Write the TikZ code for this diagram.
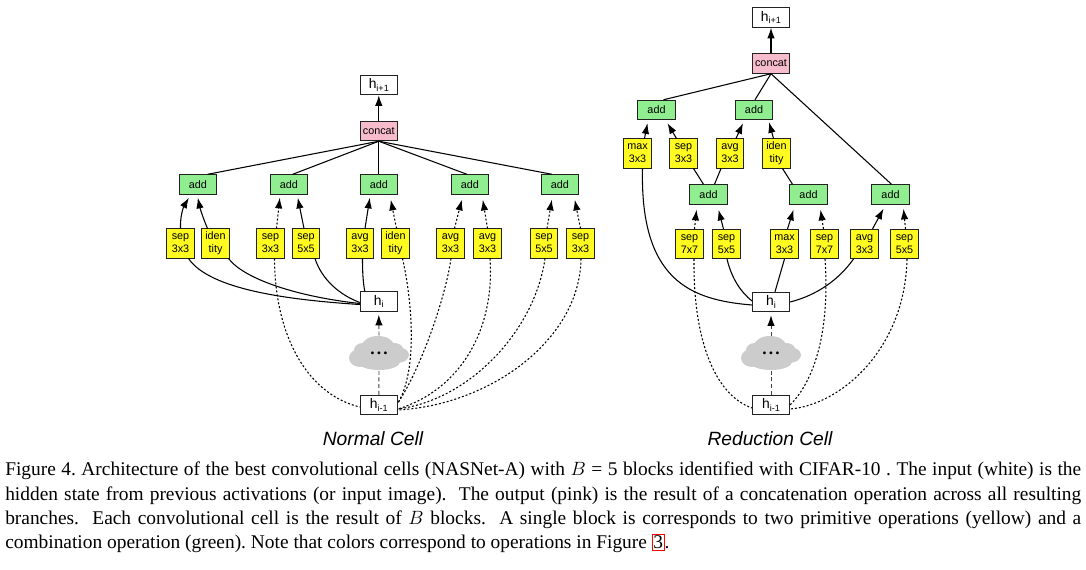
\documentclass[tikz,border=0pt]{standalone}
\usepackage{fontspec}
\setmainfont{Liberation Serif}
\setsansfont{Liberation Sans}
\usetikzlibrary{arrows.meta,calc}
\definecolor{addgreen}{HTML}{90EE90}
\definecolor{opyellow}{HTML}{FFFB20}
\definecolor{cloudgray}{HTML}{CCCCCC}
\definecolor{pinkfill}{HTML}{F7BCCB}
\definecolor{edgeblack}{HTML}{222222}
\tikzset{
  box/.style={draw=edgeblack,line width=0.75pt,font=\sffamily\fontsize{8.1}{9.75}\selectfont,align=center,inner sep=0pt,minimum width=27.8pt,minimum height=14.6pt},
  ibox/.style={box,fill=white,font=\sffamily\fontsize{10.4}{11}\selectfont},
  pinkbox/.style={box,fill=pinkfill},
  addbox/.style={box,fill=addgreen},
  opbox/.style={box,fill=opyellow,minimum width=20.4pt,minimum height=21.8pt},
  blob/.style={inner sep=0pt,minimum width=45pt,minimum height=25.5pt,font=\bfseries\fontsize{13}{13}\selectfont},
  tip/.style={-{Latex[length=8pt,width=5.6pt,black]}},
  solidedge/.style={line width=0.8pt,draw=black},
  arrowedge/.style={solidedge,tip},
  dotedge/.style={line width=0.8pt,draw=black,dash pattern=on 1.5pt off 1.5pt},
  dotarrow/.style={dotedge,tip},
  dashedge/.style={line width=0.7pt,draw=black!75,dash pattern=on 3pt off 2pt},
  title/.style={font=\sffamily\itshape\fontsize{14.4}{16}\selectfont},
}
\newcommand{\hsub}[1]{h\raisebox{-0.35ex}{\fontsize{6.8}{7}\selectfont #1}}
\newcommand{\puffs}[1]{%
  \foreach \dx/\dy/\rx/\ry in {-19/5/11/9, -1/-7/16/10, 18/2/12/8, 0/9/21/8, -16/-3/9/7, 15/-4/9/6}
    \fill[cloudgray] ($(#1)+(\dx,\dy)$) ellipse [x radius=\rx*0.75pt, y radius=\ry*0.75pt];}
\newcommand{\threedots}{.\kern1.6pt.\kern1.6pt.}
\begin{document}
\begin{tikzpicture}[x=0.75pt,y=-0.75pt]
\useasboundingbox (0,0) rectangle (1086,570);
% ---------- Normal cell ----------
\node[ibox] (hn) at (378.8,85) {\hsub{i+1}};
\node[pinkbox] (cn) at (378.8,131) {concat};
\foreach \n/\x in {a1/197.8,a2/288.8,a3/378.8,a4/469.8,a5/559.8}
  \node[addbox] (\n) at (\x,184.5) {add};
\node[opbox] (y1) at (180.5,243.5) {sep\\3x3};
\node[opbox] (y2) at (215.5,243.5) {iden\\tity};
\node[opbox] (y3) at (270.5,243.5) {sep\\3x3};
\node[opbox] (y4) at (306,243.5) {sep\\5x5};
\node[opbox] (y5) at (360,243.5) {avg\\3x3};
\node[opbox] (y6) at (395.5,243.5) {iden\\tity};
\node[opbox] (y7) at (450.5,243.5) {avg\\3x3};
\node[opbox] (y8) at (487.5,243.5) {avg\\3x3};
\node[opbox] (y9) at (544,243.5) {sep\\5x5};
\node[opbox] (y10) at (580.5,243.5) {sep\\3x3};
\node[ibox] (hi) at (378.8,301.5) {\hsub{i}};
\coordinate (clc) at (379,353);
\puffs{clc}
\node[blob] (cl) at (clc) {\threedots};
\node[ibox] (hm) at (378.8,405) {\hsub{i-1}};
\node[title] (t1) at (373,439) {Normal Cell};
\draw[arrowedge] (cn) -- (hn);
\draw[solidedge] (cn.south) -- ($(a1.north)+(10,0)$);
\draw[solidedge] (cn.south) -- ($(a2.north)+(4,0)$);
\draw[solidedge] (cn.south) -- (a3.north);
\draw[solidedge] (cn.south) -- ($(a4.north)+(-3,0)$);
\draw[solidedge] (cn.south) -- ($(a5.north)+(-8,0)$);
\draw[arrowedge] (y1.north) .. controls (180,215) and (184,206) .. ($(a1.south)+(-9,3)$);
\draw[arrowedge] ($(y2.north)+(-8,0)$) .. controls (203,218) and (200,208) .. ($(a1.south)+(0,3)$);
\draw[dotarrow] ($(y3.north)+(6,0)$) -- ($(a2.south)+(-9,3)$);
\draw[arrowedge] ($(y4.north)+(-2,0)$) -- ($(a2.south)+(9,3)$);
\draw[arrowedge] ($(y5.north)+(5,0)$) -- ($(a3.south)+(-9,3)$);
\draw[dotarrow] ($(y6.north)+(1,0)$) -- ($(a3.south)+(12,5)$);
\draw[dotarrow] ($(y7.north)+(4,0)$) -- ($(a4.south)+(-8,5)$);
\draw[dotarrow] ($(y8.north)+(0,0)$) -- ($(a4.south)+(13,5)$);
\draw[dotarrow] ($(y9.north)+(3,0)$) -- ($(a5.south)+(-8,5)$);
\draw[dotarrow] ($(y10.north)+(0,0)$) -- ($(a5.south)+(15,5)$);
\draw[solidedge] ($(y1.south)+(8,0)$) .. controls (210,290) and (290,300) .. ($(hi.west)+(0,3)$);
\draw[solidedge] ($(y2.south)+(13,0)$) .. controls (245,280) and (300,297) .. ($(hi.west)+(0,2)$);
\draw[solidedge] ($(y4.south)+(9,0)$) .. controls (322,280) and (340,295) .. ($(hi.west)+(0,1)$);
\draw[solidedge] ($(y5.south)+(2.5,0)$) .. controls (362.5,272) and (363,282) .. ($(hi.north)+(-14,0)$);
\draw[dotedge] ($(y3.south)+(4,0)$) .. controls (275,340) and (310,395) .. ($(hm.west)+(0,2)$);
\draw[dotedge] ($(y6.south)+(7,0)$) .. controls (412,300) and (418,370) .. ($(hm.east)+(0,-2)$);
\draw[dotedge] ($(y7.south)+(0.5,0)$) .. controls (445,300) and (420,370) .. ($(hm.east)+(0,-2)$);
\draw[dotedge] ($(y8.south)+(2.5,0)$) .. controls (495,330) and (460,390) .. ($(hm.east)+(0,4)$);
\draw[dotedge] ($(y9.south)+(1,0)$) .. controls (535,330) and (470,400) .. ($(hm.east)+(0,4)$);
\draw[dotedge] ($(y10.south)+(0.5,0)$) .. controls (580,340) and (490,405) .. ($(hm.east)+(0,5)$);
\draw[dashedge] (hm.north) -- (cl.south);
\draw[dashedge,tip] (cl.north) -- ($(hi.south)+(0,3)$);
% ---------- Reduction cell ----------
\node[ibox] (rhn) at (771,17.5) {\hsub{i+1}};
\node[pinkbox] (rcn) at (771,63.5) {concat};
\node[addbox] (ra1) at (656.5,110) {add};
\node[addbox] (ra2) at (754,110) {add};
\node[addbox] (ra3) at (708.5,194.5) {add};
\node[addbox] (ra4) at (808.5,194.5) {add};
\node[addbox] (ra5) at (890.5,194.5) {add};
\node[opbox] (r1) at (637.5,153.5) {max\\3x3};
\node[opbox] (r2) at (683.5,153.5) {sep\\3x3};
\node[opbox] (r3) at (730,153.5) {avg\\3x3};
\node[opbox] (r4) at (776.5,153.5) {iden\\tity};
\node[opbox] (r5) at (689.5,244) {sep\\7x7};
\node[opbox] (r6) at (726.5,244) {sep\\5x5};
\node[opbox] (r7) at (784.5,244) {max\\3x3};
\node[opbox] (r8) at (824.5,244) {sep\\7x7};
\node[opbox] (r9) at (864.5,244) {avg\\3x3};
\node[opbox] (r10) at (904.5,244) {sep\\5x5};
\node[ibox] (rhi) at (771,302) {\hsub{i}};
\coordinate (rclc) at (771,353);
\puffs{rclc}
\node[blob] (rcl) at (rclc) {\threedots};
\node[ibox] (rhm) at (771,405) {\hsub{i-1}};
\node[title] (t2) at (770,439) {Reduction Cell};
\draw[arrowedge] (rcn) -- (rhn);
\draw[solidedge] (rcn.south) -- ($(ra1.north)+(7,0)$);
\draw[solidedge] (rcn.south) -- ($(ra2.north)+(1,0)$);
\draw[solidedge] (rcn.south) -- ($(ra5.north)+(1,0)$);
\draw[arrowedge] ($(r1.north)+(7,0)$) -- ($(ra1.south)+(-9,3)$);
\draw[arrowedge] ($(r2.north)+(-7,0)$) -- ($(ra1.south)+(11,3)$);
\draw[arrowedge] ($(r3.north)+(6,0)$) -- ($(ra2.south)+(-11,3)$);
\draw[arrowedge] ($(r4.north)+(-3,0)$) -- ($(ra2.south)+(15,2)$);
\draw[solidedge] ($(r2.south)+(10,0)$) -- ($(ra3.north)+(-5,0)$);
\draw[solidedge] ($(r3.south)+(-9,0)$) -- ($(ra3.north)+(6,0)$);
\draw[solidedge] ($(r4.south)+(6,0)$) -- ($(ra4.north)+(-16,0)$);
\draw[dotarrow] ($(r5.north)+(5,0)$) -- ($(ra3.south)+(-12,5)$);
\draw[arrowedge] ($(r6.north)+(-3,0)$) -- ($(ra3.south)+(10,5)$);
\draw[arrowedge] ($(r7.north)+(3,0)$) -- ($(ra4.south)+(-15,5)$);
\draw[dotarrow] ($(r8.north)+(-1,0)$) -- ($(ra4.south)+(12,5)$);
\draw[arrowedge] ($(r9.north)+(8,0)$) -- ($(ra5.south)+(-7,4)$);
\draw[dotarrow] ($(r10.north)+(1,0)$) -- ($(ra5.south)+(13,4)$);
\draw[solidedge] ($(r1.south)+(5,0)$) .. controls (640,280) and (690,300) .. ($(rhi.west)+(0,3)$);
\draw[solidedge] ($(r6.south)+(0.5,0)$) .. controls (732,280) and (742,293) .. ($(rhi.west)+(0,-1)$);
\draw[solidedge] ($(r7.south)+(0,0)$) -- ($(rhi.north)+(4,0)$);
\draw[solidedge] ($(r9.south)+(-11,0)$) .. controls (835,285) and (810,297) .. ($(rhi.east)+(0,0)$);
\draw[dotedge] ($(r5.south)+(4.5,0)$) .. controls (693,340) and (715,395) .. ($(rhm.west)+(0,3)$);
\draw[dotedge] ($(r8.south)+(0.5,0)$) .. controls (830,330) and (815,380) .. ($(rhm.east)+(0,0)$);
\draw[dotedge] ($(r10.south)+(2.5,0)$) .. controls (905,350) and (840,405) .. ($(rhm.east)+(0,4)$);
\draw[dashedge] (rhm.north) -- (rcl.south);
\draw[dashedge,tip] (rcl.north) -- ($(rhi.south)+(0,3)$);
% ---------- Caption ----------
\node[anchor=north west,inner sep=0pt,text width=807pt,align=justify,font=\fontsize{14.55}{18.15}\selectfont] (cap) at (5,462) {%
\frenchspacing Figure 4. Architecture of the best convolutional cells (NASNet-A) with $B$ = 5 blocks identified with CIFAR-10 . The input (white) is the\linebreak
hidden state from previous activations (or input image).\ \ The output (pink) is the result of a concatenation operation across all resulting\linebreak
branches.\ \ Each convolutional cell is the result of $B$ blocks.\ \ A single block is corresponds to two primitive operations (yellow) and a\linebreak
combination operation (green). Note that colors correspond to operations in Figure~{\setlength{\fboxsep}{0.6pt}\setlength{\fboxrule}{0.6pt}\fcolorbox{red}{white}{3}}.};
\end{tikzpicture}
\end{document}
